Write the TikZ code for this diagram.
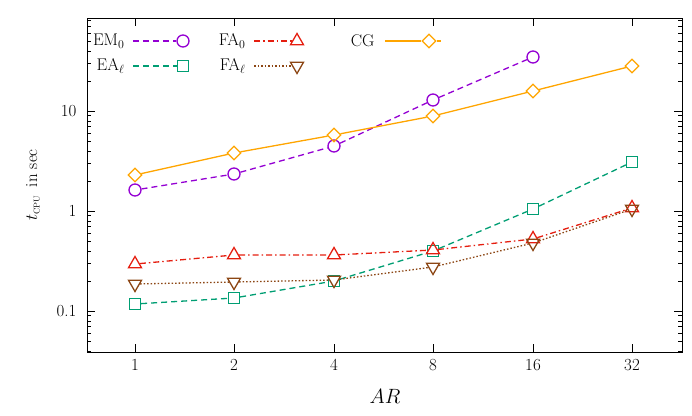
\documentclass[tikz,border=0pt]{standalone}
\usepackage{fontspec}
\usepackage{tikz}
\usetikzlibrary{shapes.geometric}
\definecolor{cEM}{RGB}{148,0,211}
\definecolor{cEA}{RGB}{0,158,115}
\definecolor{cFA}{RGB}{229,30,16}
\definecolor{cFL}{RGB}{140,70,20}
\definecolor{cCG}{RGB}{255,165,0}
\begin{document}
\begin{tikzpicture}[x=1bp,y=-1bp,
    font=\fontsize{17}{19}\selectfont,
    circ/.style={circle, draw, line width=1.3bp, minimum size=12bp, inner sep=0pt},
    sq/.style={rectangle, draw, line width=1.3bp, minimum size=11bp, inner sep=0pt},
    tri/.style={regular polygon, regular polygon sides=3, draw, line width=1.3bp, minimum size=15bp, inner sep=0pt},
    tridn/.style={tri, shape border rotate=180},
    dia/.style={diamond, draw, line width=1.3bp, minimum size=14bp, inner sep=0pt},
    curve/.style={line width=1.3bp},
    dsh/.style={dash pattern=on 6bp off 4bp},
    dshdot/.style={dash pattern=on 6bp off 3bp on 1.5bp off 3bp},
    dts/.style={dash pattern=on 1.5bp off 2bp}
]
\useasboundingbox (0,0) rectangle (692,415);

% Frame and ticks
\draw (87,18) rectangle (682,352);
\foreach \xp/\lab in {135/1,234/2,334/4,433/8,533/16,632/32}{
  \draw (\xp,352) -- ++(0,-8);
  \draw (\xp,18) -- ++(0,8);
  \node[anchor=north] (xl\lab) at (\xp,356) {\lab};
}
\foreach \yp/\lab in {311/0.1,211/1,111/10}{
  \draw (87,\yp) -- ++(8,0);
  \draw (682,\yp) -- ++(-8,0);
  \node[anchor=east] (yl\lab) at (80,\yp) {\lab};
}
\foreach \d in {411,311,211,111}{
  \foreach \k in {2,...,9}{
    \pgfmathsetmacro{\yy}{\d-100*log10(\k)}
    \pgfmathparse{(\yy>18)&&(\yy<352)}
    \ifnum\pgfmathresult=1
      \draw (87,\yy) -- ++(4,0);
      \draw (682,\yy) -- ++(-4,0);
    \fi
  }
}
\node[rotate=90] (ylab) at (33,185) {$t_{\mathrm{\scriptscriptstyle CPU}}$\enspace in sec};
\node[font=\fontsize{20}{22}\selectfont] (xlab) at (385,396) {$AR$};

% EM_0
\foreach \i/\p in {1/{135,190},2/{234,174},3/{334,146},4/{433,100},5/{533,57}}
  \node[circ, cEM] (em\i) at (\p) {};
\draw[curve, cEM, dsh] (em1) -- (em2) -- (em3) -- (em4) -- (em5);

% CG
\foreach \i/\p in {1/{135,175},2/{234,153},3/{334,135},4/{433,116},5/{533,91},6/{632,66}}
  \node[dia, cCG] (cg\i) at (\p) {};
\draw[curve, cCG] (cg1) -- (cg2) -- (cg3) -- (cg4) -- (cg5) -- (cg6);

% EA_l
\foreach \i/\p in {1/{135,304},2/{234,298},3/{334,281},4/{433,251},5/{533,209},6/{632,162}}
  \node[sq, cEA] (ea\i) at (\p) {};
\draw[curve, cEA, dsh] (ea1) -- (ea2) -- (ea3) -- (ea4) -- (ea5) -- (ea6);

% FA_0
\foreach \i/\p in {1/{135,264},2/{234,255},3/{334,255},4/{433,250},5/{533,239},6/{632,208}}
  \node[tri, cFA] (fa\i) at (\p) {};
\draw[curve, cFA, dshdot] (fa1) -- (fa2) -- (fa3) -- (fa4) -- (fa5) -- (fa6);

% FA_l
\foreach \i/\p in {1/{135,284},2/{234,282},3/{334,280},4/{433,267},5/{533,243},6/{632,209}}
  \node[tridn, cFL] (fl\i) at (\p) {};
\draw[curve, cFL, dts] (fl1) -- (fl2) -- (fl3) -- (fl4) -- (fl5) -- (fl6);

% Legend
\node[anchor=east] (tEM) at (128,41) {EM$_0$};
\node[circ, cEM] (kEM) at (183,41) {};
\coordinate (sEM) at (133,41);
\draw[curve, cEM, dsh] (sEM) -- (kEM);
\node[anchor=east] (tEA) at (128,66) {EA$_\ell$};
\node[sq, cEA] (kEA) at (183,66) {};
\coordinate (sEA) at (133,66);
\draw[curve, cEA, dsh] (sEA) -- (kEA);
\node[anchor=east] (tFA) at (249,41) {FA$_0$};
\node[tri, cFA] (kFA) at (297,41) {};
\coordinate (sFA) at (254,41);
\draw[curve, cFA, dshdot] (sFA) -- (kFA);
\node[anchor=east] (tFL) at (249,66) {FA$_\ell$};
\node[tridn, cFL] (kFL) at (297,66) {};
\coordinate (sFL) at (254,66);
\draw[curve, cFL, dts] (sFL) -- (kFL);
\node[anchor=east] (tCG) at (378,41) {CG};
\node[dia, cCG] (kCG) at (429,41) {};
\coordinate (sCG) at (385,41);
\coordinate (eCG) at (441,41);
\draw[curve, cCG] (sCG) -- (kCG) -- (eCG);
\end{tikzpicture}
\end{document}
